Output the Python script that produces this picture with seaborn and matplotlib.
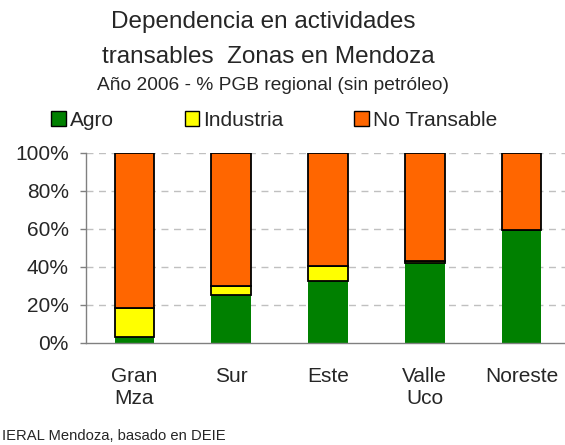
import matplotlib
matplotlib.use("Agg")
import matplotlib.pyplot as plt
from matplotlib.patches import Patch
from matplotlib.ticker import FixedLocator
import seaborn as sns
import pandas as pd

zones = ["Gran\nMza", "Sur", "Este", "Valle\nUco", "Noreste"]
agro = [3.2, 25.4, 32.4, 42.1, 59.5]
industria = [15.2, 4.8, 7.9, 0.8, 0.0]
no_transable = [81.6, 69.8, 59.7, 57.1, 40.5]
y_ticks = [0, 20, 40, 60, 80, 100]
y_tick_labels = ["0%", "20%", "40%", "60%", "80%", "100%"]
series_names = ["Agro", "Industria", "No Transable"]
colors = ["#008000", "#FFFF00", "#FF6600"]

sns.set_style("white")
plt.rcParams["font.family"] = ["Liberation Sans", "DejaVu Sans"]

df = pd.DataFrame({"zona": zones, "agro": agro, "industria": industria,
                   "no_transable": no_transable})
bottom_ind = [a for a in agro]
bottom_nt = [a + i for a, i in zip(agro, industria)]

fig = plt.figure(figsize=(5.65, 4.45), dpi=100)
ax = fig.add_axes([86 / 565, 102 / 445, 484 / 565, 190 / 445])

bw = 0.41
sns.barplot(data=df, x="zona", y="agro", color=colors[0], saturation=1,
            width=bw, linewidth=0, ax=ax)
sns.barplot(data=df, x="zona", y="industria", color=colors[1], saturation=1,
            width=bw, bottom=bottom_ind, edgecolor="black", linewidth=1.3, ax=ax)
sns.barplot(data=df, x="zona", y="no_transable", color=colors[2], saturation=1,
            width=bw, bottom=bottom_nt, edgecolor="black", linewidth=1.3, ax=ax)

ax.set_xlim(-0.5, 4.5)
ax.set_ylim(0, 100)
ax.set_yticks(y_ticks)
ax.set_yticklabels(y_tick_labels, fontsize=15)
ax.set_xticks(range(len(zones)))
ax.set_xticklabels(zones, fontsize=15)
ax.xaxis.set_minor_locator(FixedLocator([-0.5, 0.5, 1.5, 2.5, 3.5, 4.5]))
ax.tick_params(axis="x", which="major", length=0, pad=17)
ax.tick_params(axis="x", which="minor", length=4.5, width=1, color="#808080", direction="out")
ax.tick_params(axis="y", length=4.5, width=1, color="#808080", direction="out", pad=8, left=True)
ax.set_xlabel("")
ax.set_ylabel("")

for y in y_ticks[1:]:
    ax.axhline(y, color="#c0c0c0", linestyle=(0, (5, 4)), linewidth=1, zorder=0)

for s in ["top", "right"]:
    ax.spines[s].set_visible(False)
for s in ["left", "bottom"]:
    ax.spines[s].set_color("#808080")
    ax.spines[s].set_linewidth(1)

fig.text(263 / 565, 1 - 22 / 445, "Dependencia en actividades", ha="center", va="center", fontsize=17.5)
fig.text(268 / 565, 1 - 57 / 445, "transables  Zonas en Mendoza", ha="center", va="center", fontsize=17.5)
fig.text(273 / 565, 1 - 86 / 445, "Año 2006 - % PGB regional (sin petróleo)", ha="center", va="center", fontsize=13.8)

handles = [Patch(facecolor=c, edgecolor="black", linewidth=1) for c in colors]
fig.legend(handles, series_names, loc="center left", bbox_to_anchor=(51 / 565, 1 - 120 / 445),
           ncol=3, frameon=False, fontsize=15, handlelength=0.7, handleheight=0.7,
           handletextpad=0.2, columnspacing=3.4, borderaxespad=0, borderpad=0)

fig.text(2 / 565, 1 - 436 / 445, "IERAL Mendoza, basado en DEIE", ha="left", va="center", fontsize=10.6)

fig.savefig("out.png", dpi=100)
